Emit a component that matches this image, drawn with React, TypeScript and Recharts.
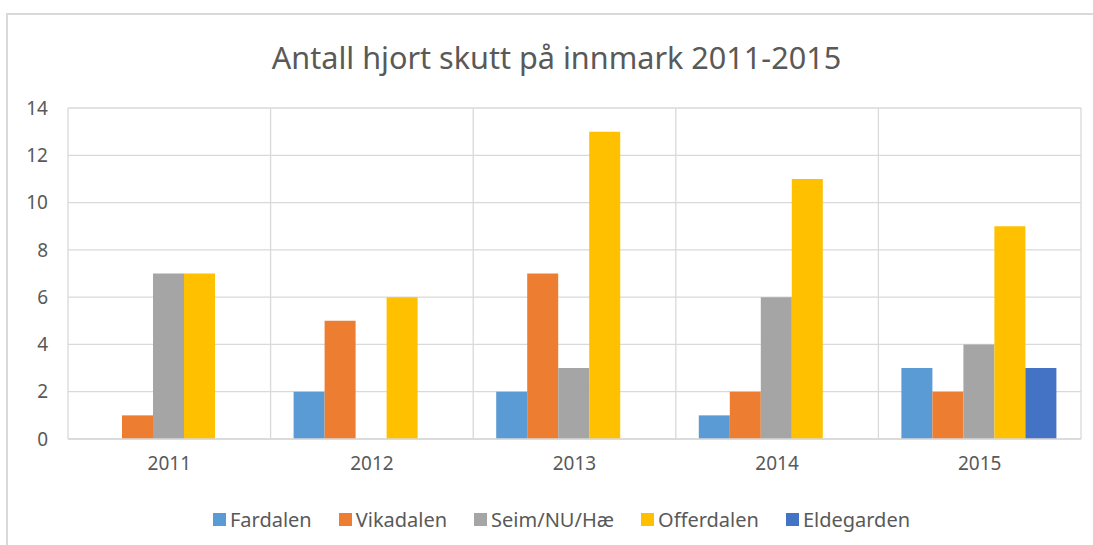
import React from "react";
import { BarChart, Bar, XAxis, YAxis, CartesianGrid, Legend } from "recharts";

const years = ["2011", "2012", "2013", "2014", "2015"];
const fardalen = [0, 2, 2, 1, 3];
const vikadalen = [1, 5, 7, 2, 2];
const seim = [7, 0, 3, 6, 4];
const offerdalen = [7, 6, 13, 11, 9];
const eldegarden = [0, 0, 0, 0, 3];
const yTicks = [0, 2, 4, 6, 8, 10, 12, 14];

const seriesNames = ["Fardalen", "Vikadalen", "Seim/NU/Hæ", "Offerdalen", "Eldegarden"];
const seriesKeys = ["fardalen", "vikadalen", "seim", "offerdalen", "eldegarden"];
const colors = ["#5B9BD5", "#ED7D31", "#A5A5A5", "#FFC000", "#4472C4"];

const data = years.map((y, i) => ({
  year: y,
  idx: i + 0.5,
  fardalen: fardalen[i],
  vikadalen: vikadalen[i],
  seim: seim[i],
  offerdalen: offerdalen[i],
  eldegarden: eldegarden[i],
}));

const FONT = "'Noto Sans', 'Open Sans', sans-serif";
const TEXT = "#595959";

const LegendContent = () => (
  <div style={{ display: "flex", justifyContent: "center", alignItems: "center", fontFamily: FONT, fontSize: 20, color: TEXT, height: 26, paddingLeft: 34 }}>
    {seriesNames.map((n, i) => (
      <div key={n} style={{ display: "flex", alignItems: "center", marginRight: i < seriesNames.length - 1 ? 27 : 0 }}>
        <span style={{ display: "inline-block", width: 13, height: 13, background: colors[i], marginRight: 4 }} />
        <span>{n}</span>
      </div>
    ))}
  </div>
);

export default function App() {
  return (
    <div style={{ position: "absolute", left: 0, top: 0, width: 1093, height: 545, background: "#fff" }}>
      <div style={{ position: "absolute", left: 6, top: 13, right: 0, bottom: 0, borderLeft: "2px solid #d9d9d9", borderTop: "2px solid #d9d9d9" }} />
      <div style={{ position: "absolute", left: 0, width: 1113, top: 37, textAlign: "center", fontFamily: FONT, fontSize: 30.6, color: TEXT, lineHeight: "40px" }}>
        Antall hjort skutt på innmark 2011-2015
      </div>
      <div style={{ position: "absolute", left: 0, top: 0 }}>
        <BarChart width={1093} height={545} data={data} margin={{ top: 108, right: 12, left: 8, bottom: 13 }} barGap={0} barCategoryGap={23}>
          <XAxis xAxisId="grid" type="number" dataKey="idx" domain={[0, 5]} ticks={[0, 1, 2, 3, 4, 5]} hide />
          <CartesianGrid xAxisId="grid" stroke="#d9d9d9" strokeWidth={1.3} />
          <XAxis dataKey="year" height={67} tickLine={false} axisLine={{ stroke: "#d9d9d9", strokeWidth: 1.5 }} tickMargin={12} tick={{ fill: TEXT, fontSize: 19, fontFamily: FONT }} />
          <YAxis domain={[0, 14]} ticks={yTicks} width={60} tickLine={false} axisLine={false} tickMargin={14} tick={{ fill: TEXT, fontSize: 19, fontFamily: FONT }} />
          {seriesKeys.map((k, i) => (
            <Bar key={k} dataKey={k} name={seriesNames[i]} fill={colors[i]} isAnimationActive={false} />
          ))}
          <Legend verticalAlign="bottom" content={<LegendContent />} />
        </BarChart>
      </div>
    </div>
  );
}
